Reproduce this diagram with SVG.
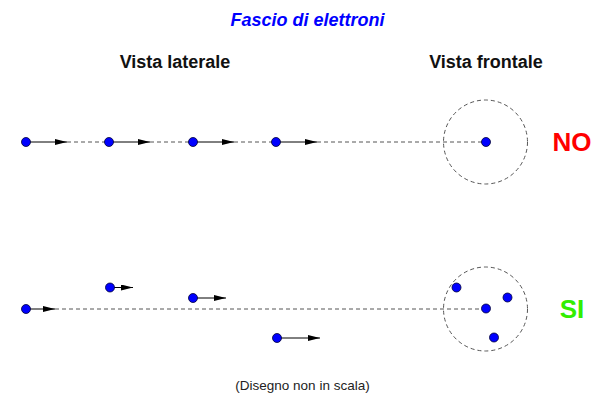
<svg xmlns="http://www.w3.org/2000/svg" width="615" height="413" viewBox="0 0 615 413">
<style>
.e{fill:#0000ff;stroke:#000033;stroke-width:0.8}
.a{stroke:#000;stroke-width:1;fill:none;marker-end:url(#ah)}
.d{stroke:#555;stroke-width:1;stroke-dasharray:4 3;fill:none}
.t{font-family:"Liberation Sans",Arial,sans-serif;font-weight:bold}
</style>
<defs>
<marker id="ah" viewBox="0 0 12 6" refX="12" refY="3" markerWidth="12" markerHeight="6" markerUnits="userSpaceOnUse" orient="auto">
<path d="M0,0 L12,3 L0,6 Z" fill="#000"/>
</marker>
</defs>
<rect width="615" height="413" fill="#fff"/>
<text class="t" x="307.5" y="26" font-size="18" font-style="italic" fill="#0000ff" text-anchor="middle">Fascio di elettroni</text>
<text class="t" x="175" y="68" font-size="18" fill="#111" text-anchor="middle">Vista laterale</text>
<text class="t" x="486" y="68" font-size="18" fill="#111" text-anchor="middle">Vista frontale</text>
<g id="connectors">
<path class="d" d="M67,142 H109 M150,142 H193 M234,142 H276 M317,142 H486"/>
<path class="d" d="M55,309 H486"/>
<circle class="d" cx="485.5" cy="142" r="42"/>
<circle class="d" cx="485.5" cy="309" r="42"/>
<path class="a" d="M26,142 H67"/>
<path class="a" d="M109,142 H150"/>
<path class="a" d="M193,142 H234"/>
<path class="a" d="M276,142 H317"/>
<path class="a" d="M26,309 H55"/>
<path class="a" d="M110,287.5 H133"/>
<path class="a" d="M193,298 H226"/>
<path class="a" d="M277,338 H320"/>
</g>
<g id="top-side">
<circle class="e" cx="26" cy="142" r="4.5"/>
<circle class="e" cx="109" cy="142" r="4.5"/>
<circle class="e" cx="193" cy="142" r="4.5"/>
<circle class="e" cx="276" cy="142" r="4.5"/>
</g>
<g id="top-front">
<circle class="e" cx="486" cy="142" r="4.5"/>
</g>
<g id="bottom-side">
<circle class="e" cx="26" cy="309" r="4.5"/>
<circle class="e" cx="110" cy="287.5" r="4.5"/>
<circle class="e" cx="193" cy="298" r="4.5"/>
<circle class="e" cx="277" cy="338" r="4.5"/>
</g>
<g id="bottom-front">
<circle class="e" cx="456.5" cy="287.5" r="4.5"/>
<circle class="e" cx="486" cy="308.5" r="4.5"/>
<circle class="e" cx="507.5" cy="297.5" r="4.5"/>
<circle class="e" cx="494" cy="337.5" r="4.5"/>
</g>
<text class="t" x="572" y="151" font-size="26" fill="#ff0000" text-anchor="middle">NO</text>
<text class="t" x="572" y="318" font-size="26" fill="#33ee00" text-anchor="middle">SI</text>
<text x="302.5" y="390" font-family="'Liberation Sans',Arial,sans-serif" font-size="13.5" fill="#222" text-anchor="middle">(Disegno non in scala)</text>
</svg>
